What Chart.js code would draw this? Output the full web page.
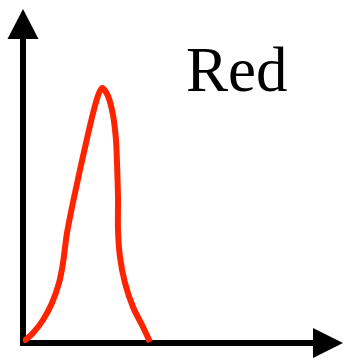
<!DOCTYPE html>
<html>
<head>
<meta charset="utf-8">
<script src="https://cdn.jsdelivr.net/npm/chart.js@4/dist/chart.umd.min.js"></script>
<style>
  html, body { margin: 0; padding: 0; background: #fff; }
  #chart { display: block; }
</style>
</head>
<body>
<canvas id="chart" width="343" height="360"></canvas>
<script>
// curve (arbitrary units, origin at the axes corner)
const seriesLabel = 'Red';
const curveX = [0, 10, 20, 29, 36, 40, 44, 52, 63, 73, 79, 85, 90, 93, 94, 95, 95, 97, 102, 110, 120, 127];
const curveY = [1, 10, 23, 40, 60, 80, 110, 150, 200, 241, 255, 247, 228, 203, 180, 146, 113, 86, 60, 36, 16, 1];
const xRange = [0, 290];
const yRange = [0, 304];

const points = curveX.map(function(x, i) { return { x: x, y: curveY[i] }; });

// axes with arrowheads + the big label
const axesPlugin = {
    id: 'arrowAxes',
    beforeDatasetsDraw: function(chart) {
        const ctx = chart.ctx;
        const a = chart.chartArea;
        const x0 = chart.scales.x.getPixelForValue(xRange[0]);
        const y0 = chart.scales.y.getPixelForValue(yRange[0]);
        ctx.save();
        ctx.strokeStyle = '#000';
        ctx.fillStyle = '#000';
        ctx.lineWidth = 6;
        ctx.beginPath();
        ctx.moveTo(x0, y0 + 3);
        ctx.lineTo(x0, a.top);
        ctx.moveTo(x0 - 3, y0);
        ctx.lineTo(a.right, y0);
        ctx.stroke();
        // y arrow
        ctx.beginPath();
        ctx.moveTo(x0 - 15.5, a.top);
        ctx.lineTo(x0 + 15.5, a.top);
        ctx.lineTo(x0, a.top - 30);
        ctx.closePath();
        ctx.fill();
        // x arrow
        ctx.beginPath();
        ctx.moveTo(a.right, y0 - 15);
        ctx.lineTo(a.right, y0 + 15);
        ctx.lineTo(a.right + 30, y0);
        ctx.closePath();
        ctx.fill();
        ctx.restore();
    },
    afterDraw: function(chart) {
        const ctx = chart.ctx;
        ctx.save();
        ctx.fillStyle = '#000';
        ctx.font = '63px "Liberation Serif", "Times New Roman", serif';
        ctx.textBaseline = 'alphabetic';
        ctx.fillText(chart.data.datasets[0].label, 186, 91);
        ctx.restore();
    }
};

new Chart(document.getElementById('chart'), {
    type: 'scatter',
    data: {
        datasets: [{
            label: seriesLabel,
            data: points,
            showLine: true,
            borderColor: 'rgb(255, 36, 0)',
            borderWidth: 6,
            pointRadius: 0,
            tension: 0.3,
            borderCapStyle: 'butt'
        }]
    },
    options: {
        responsive: false,
        animation: false,
        layout: { padding: { left: 23, right: 30, top: 39, bottom: 17 } },
        plugins: {
            legend: { display: false },
            tooltip: { enabled: false }
        },
        scales: {
            x: { type: 'linear', display: false, min: xRange[0], max: xRange[1] },
            y: { type: 'linear', display: false, min: yRange[0], max: yRange[1] }
        }
    },
    plugins: [axesPlugin]
});
</script>
</body>
</html>
